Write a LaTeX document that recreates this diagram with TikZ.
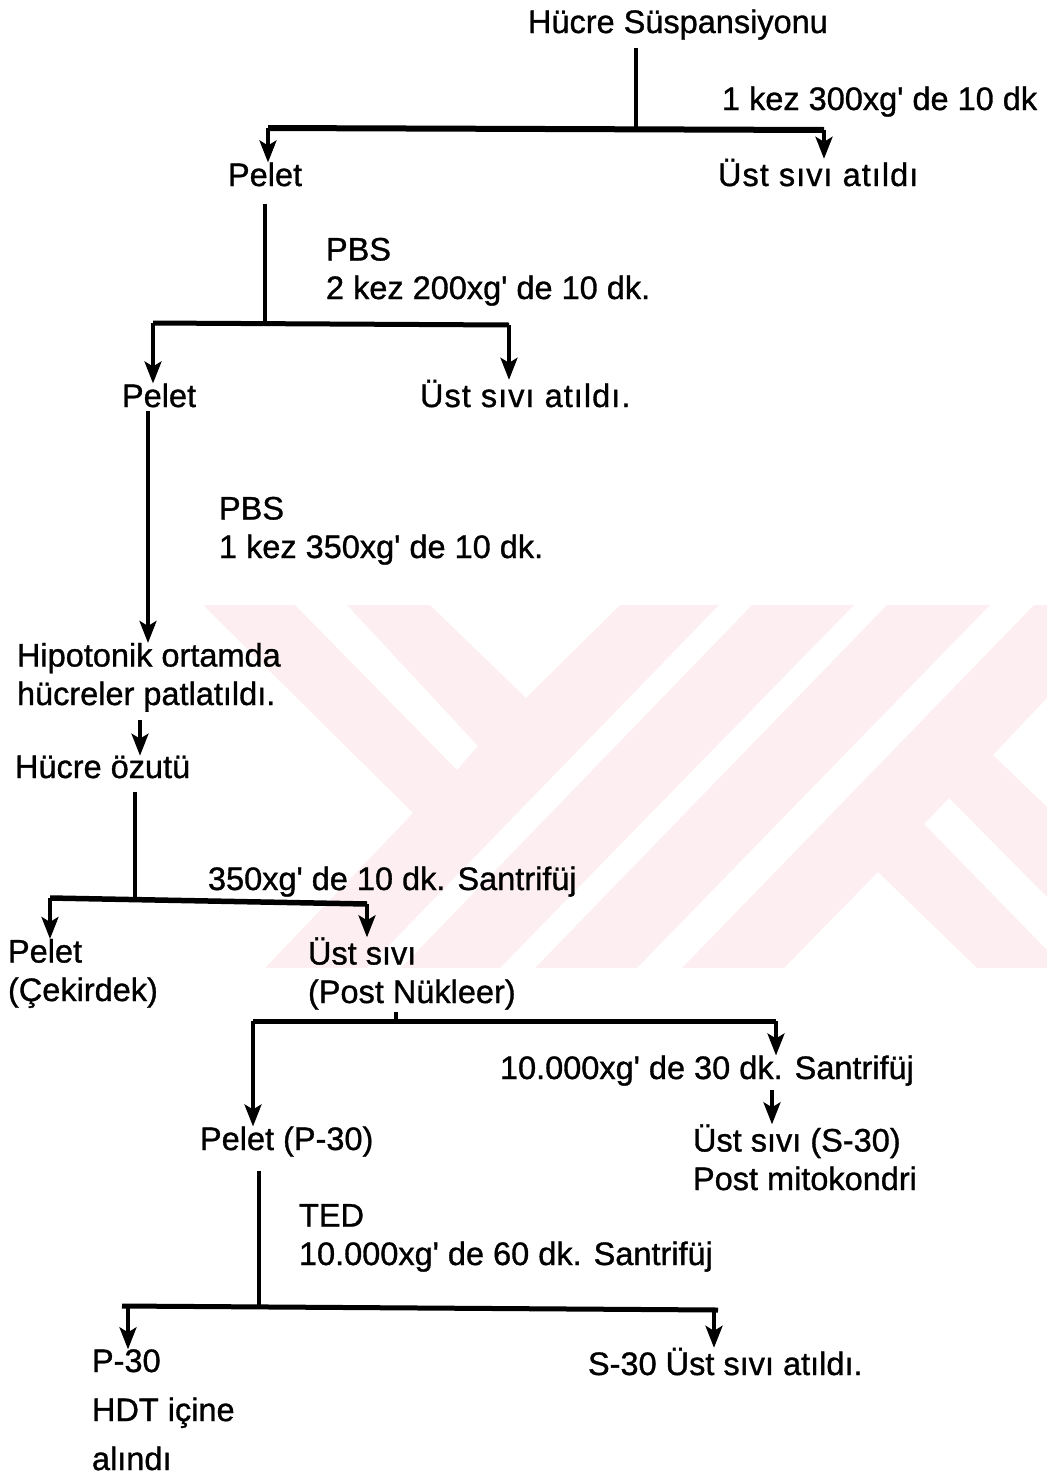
\documentclass[tikz,border=0pt]{standalone}
\usepackage{fontspec}
\newfontfamily\labelfont[FakeBold=1]{Liberation Sans}
\newfontfamily\loosefont[FakeBold=1, LetterSpace=3.2]{Liberation Sans}
\usetikzlibrary{arrows.meta, calc, positioning}
\definecolor{wmark}{HTML}{FDEFF1}

\begin{document}
\begin{tikzpicture}[x=1pt, y=-1pt]
    \tikzstyle{label} = [anchor=base west, inner sep=0pt, outer sep=0pt, align=left,
                         font=\fontsize{32.5}{38.5}\labelfont]
    \tikzstyle{loose} = [label, font=\fontsize{32.5}{38.5}\loosefont]
    \tikzstyle{stem} = [line width=3.5pt]
    \tikzstyle{bar}  = [line width=5pt]
    \tikzstyle{flow} = [-{Stealth[length=22pt, width=17pt, inset=5pt]}, line width=3.5pt]

    \useasboundingbox (0,0) rectangle (1047,1478);

    % watermark
    \fill [wmark] (203,605) -- (295,605) -- (457,770) -- (478,746) -- (347,605) -- (430,605)
        -- (526,698) -- (620,605) -- (719,605) -- (367,968) -- (265,968) -- (413,813) -- cycle;
    \fill [wmark] (752,605) -- (854,605) -- (500,968) -- (401,968) -- cycle;
    \fill [wmark] (887,605) -- (990,605) -- (637,968) -- (535,968) -- cycle;
    \fill [wmark] (1034,605) -- (1047,605) -- (1047,698) -- (993,755) -- (1047,807) -- (1047,897)
        -- (949,798) -- (924,824) -- (1047,950) -- (1047,968) -- (977,968) -- (878,872)
        -- (784,968) -- (682,968) -- cycle;

    \node (susp)    [label] at (528,33)   {Hücre Süspansiyonu};
    \node (spin1)   [label] at (722,110)  {1 kez 300xg' de 10 dk};
    \node (pelet1)  [label] at (228,186)  {Pelet};
    \node (atik1)   [loose] at (718,186)  {Üst sıvı atıldı};
    \node (wash1)   [label] at (326,299)  {PBS\\2 kez 200xg' de 10 dk.};
    \node (pelet2)  [label] at (122,407)  {Pelet};
    \node (atik2)   [loose] at (420,407)  {Üst sıvı atıldı.};
    \node (wash2)   [label] at (219,558)  {PBS\\1 kez 350xg' de 10 dk.};
    \node (hipo)    [label] at (17,705)   {Hipotonik ortamda\\hücreler patlatıldı.};
    \node (ozut)    [label] at (15,778)   {Hücre özutü};
    \node (spin2)   [label] at (208,890)  {350xg' de 10 dk. Santrifüj};
    \node (cekirdek)[label] at (8,1001)   {Pelet\\(Çekirdek)};
    \node (nukleer) [label] at (308,1003) {Üst sıvı\\(Post Nükleer)};
    \node (spin3)   [label] at (500,1079) {10.000xg' de 30 dk. Santrifüj};
    \node (p30)     [label] at (200,1150) {Pelet (P-30)};
    \node (s30)     [label] at (693,1190) {Üst sıvı (S-30)\\Post mitokondri};
    \node (ted)     [label] at (299,1265) {TED\\10.000xg' de 60 dk. Santrifüj};
    \node (hdt)     [label, font=\fontsize{32.5}{49}\labelfont] at (92,1470) {P-30\\HDT içine\\alındı};
    \node (atik3)   [label] at (588,1375) {S-30 Üst sıvı atıldı.};

    \coordinate (j1)  at (636,129);
    \coordinate (j1l) at (268,128);
    \coordinate (j1r) at (824,130);
    \coordinate (j2)  at (265,323);
    \coordinate (j2l) at (153,323);
    \coordinate (j2r) at (509,325);
    \coordinate (j4)  at (135,899);
    \coordinate (j4l) at (50,898);
    \coordinate (j4r) at (367,904);
    \coordinate (j5)  at (396,1021);
    \coordinate (j5l) at (253,1021);
    \coordinate (j5r) at (776,1021);
    \coordinate (j6)  at (259,1306);
    \coordinate (j6l) at (122,1306);
    \coordinate (j6r) at (718,1310);

    \draw [stem, shorten <=8pt] (susp.south -| j1) -- (j1);
    \draw [bar, line width=6pt] (j1l) -- (j1r);
    \draw [flow] (j1l) -- (pelet1.north -| j1l);
    \draw [flow] (j1r) -- (atik1.north -| j1r);

    \draw [stem, shorten <=18pt] (pelet1.south -| j2) -- (j2);
    \draw [bar] (j2l) -- (j2r);
    \draw [flow] (j2l) -- (pelet2.north -| j2l);
    \draw [flow] (j2r) -- (atik2.north -| j2r);

    \draw [flow, shorten <=4pt] (pelet2.south -| 148,0) -- (hipo.north -| 148,0);
    \draw [flow, shorten <=8pt] (hipo.south -| 140,0) -- (ozut.north -| 140,0);

    \draw [stem, shorten <=14pt] (ozut.south -| j4) -- (j4);
    \draw [bar, line width=5.5pt] (j4l) -- (j4r);
    \draw [flow] (j4l) -- (cekirdek.north -| j4l);
    \draw [flow] (j4r) -- (nukleer.north -| j4r);

    \draw [stem, shorten <=2pt] (nukleer.south -| j5) -- (j5);
    \draw [bar] (j5l) -- (j5r);
    \draw [flow] (j5l) -- (p30.north -| j5l);
    \draw [flow] (j5r) -- (spin3.north -| j5r);
    \draw [flow, shorten <=4pt] (spin3.south -| 772,0) -- (s30.north -| 772,0);

    \draw [stem, shorten <=14pt] (p30.south -| j6) -- (j6);
    \draw [bar] (j6l) -- (j6r);
    \draw [flow] (j6l -| 128,0) -- (hdt.north -| 128,0);
    \draw [flow] (j6r -| 714,0) -- (atik3.north -| 714,0);
\end{tikzpicture}
\end{document}
